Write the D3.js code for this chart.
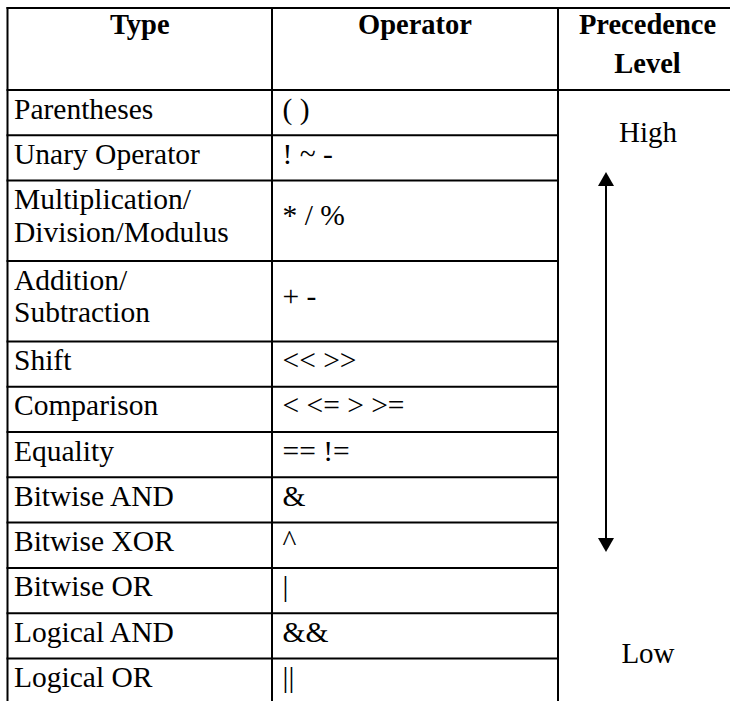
<!DOCTYPE html>
<html><head><meta charset="utf-8">
<script src="https://cdn.jsdelivr.net/npm/d3@7"></script>
<style>html,body{margin:0;padding:0;background:#fff;}</style>
</head><body>
<script>
const headers = ["Type", "Operator", "Precedence\nLevel"];
const types = ["Parentheses", "Unary Operator", "Multiplication/\nDivision/Modulus", "Addition/\nSubtraction",
  "Shift", "Comparison", "Equality", "Bitwise AND", "Bitwise XOR", "Bitwise OR", "Logical AND", "Logical OR"];
const operators = ["( )", "! ~ -", "* / %", "+ -", "<< >>", "< <= > >=", "== !=", "&", "^", "|", "&&", "||"];
const levels = ["High", "Low"];

const W = 730, H = 701;
const svg = d3.select("body").append("svg").attr("width", W).attr("height", H);

const colEdges = [7.5, 272, 558, 738];
const colX = i => colEdges[i];

// row units
const units = types.map(t => t.split("\n").length === 1 ? 1 : 1.775);
const cum = [0]; units.forEach(u => cum.push(cum[cum.length - 1] + u));
const rowH = 45.3;
const y = d3.scaleLinear().domain([0, 1]).range([90, 90 + rowH]);
const headTop = 8;

const font = "'Liberation Serif','Times New Roman',serif";
const g = svg.append("g");
const stroke = "#000", sw = 2;
const fs = 29.5;

// top border
g.append("line").attr("x1", colX(0) - 1).attr("x2", W).attr("y1", headTop).attr("y2", headTop).attr("stroke", stroke).attr("stroke-width", sw);
// header bottom
g.append("line").attr("x1", colX(0) - 1).attr("x2", W).attr("y1", y(0)).attr("y2", y(0)).attr("stroke", stroke).attr("stroke-width", sw);
// vertical lines
[0, 1, 2].forEach(i => {
  g.append("line").attr("x1", colX(i)).attr("x2", colX(i)).attr("y1", headTop - 1).attr("y2", H).attr("stroke", stroke).attr("stroke-width", sw);
});
// row lines (cols 0-1)
cum.slice(1).forEach(c => {
  g.append("line").attr("x1", colX(0) - 1).attr("x2", colX(2) + 1).attr("y1", y(c)).attr("y2", y(c)).attr("stroke", stroke).attr("stroke-width", sw);
});

// headers
headers.forEach((h, i) => {
  const cx = (colX(i) + colX(i + 1)) / 2 + (i === 2 ? -0.5 : 0);
  const t = g.append("text").attr("x", cx).attr("y", 34).attr("text-anchor", "middle")
    .attr("font-family", font).attr("font-weight", "bold").attr("font-size", 28.5).attr("fill", "#000");
  h.split("\n").forEach((ln, k) => t.append("tspan").attr("x", cx).attr("dy", k === 0 ? 0 : 39).text(ln));
});

// body
types.forEach((t, r) => {
  const lines = t.split("\n");
  const top = y(cum[r]);
  const lh = 32.5;
  const base = top + 28.5;
  const tx = g.append("text").attr("x", colX(0) + 6.5).attr("y", base).attr("font-family", font).attr("font-size", fs).attr("fill", "#000");
  lines.forEach((ln, k) => tx.append("tspan").attr("x", colX(0) + 6.5).attr("dy", k === 0 ? 0 : lh).text(ln));
  g.append("text").attr("x", colX(1) + 10.5).attr("y", base + (lines.length - 1) * lh / 2).attr("font-family", font).attr("font-size", fs)
    .attr("fill", "#000").attr("xml:space", "preserve").text(operators[r]);
});

// precedence level
const c3 = 648;
g.append("text").attr("x", c3).attr("y", 142).attr("text-anchor", "middle").attr("font-family", font).attr("font-size", 29).attr("fill", "#000").text(levels[0]);
g.append("text").attr("x", c3).attr("y", 663).attr("text-anchor", "middle").attr("font-family", font).attr("font-size", 29).attr("fill", "#000").text(levels[1]);

// arrow
const ax = 606, aTop = 172, aBot = 552, ah = 14, aw = 8;
g.append("line").attr("x1", ax).attr("x2", ax).attr("y1", aTop + ah - 1).attr("y2", aBot - ah + 1).attr("stroke", stroke).attr("stroke-width", sw);
g.append("path").attr("d", d3.line()([[ax, aTop], [ax - aw, aTop + ah], [ax + aw, aTop + ah]]) + "Z").attr("fill", stroke);
g.append("path").attr("d", d3.line()([[ax, aBot], [ax - aw, aBot - ah], [ax + aw, aBot - ah]]) + "Z").attr("fill", stroke);
</script>
</body></html>
